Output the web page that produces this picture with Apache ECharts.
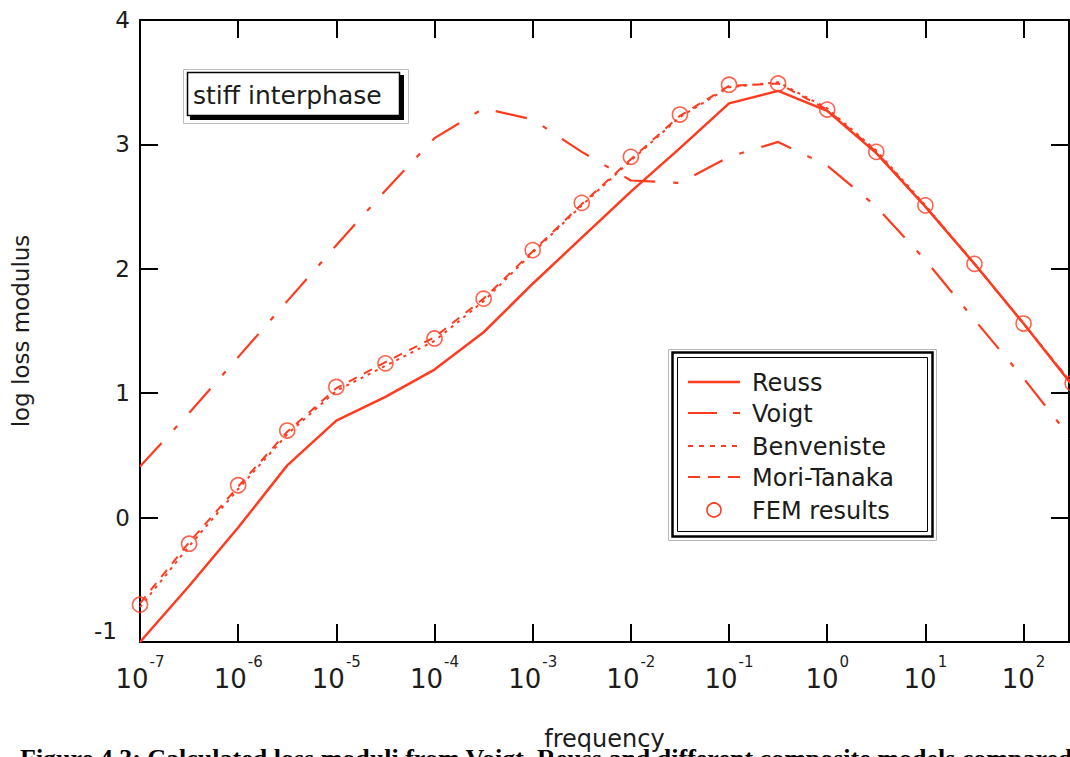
<!DOCTYPE html>
<html>
<head>
<meta charset="utf-8">
<script src="https://cdn.jsdelivr.net/npm/echarts@6/dist/echarts.min.js"></script>
<style>
html,body{margin:0;padding:0;background:#fff;}
#chart{width:1070px;height:757px;}
</style>
</head>
<body>
<div id="chart"></div>
<script>
// log10(frequency) sample positions (half decades)
var logFreq = [-7,-6.5,-6,-5.5,-5,-4.5,-4,-3.5,-3,-2.5,-2,-1.5,-1,-0.5,0,0.5,1,1.5,2,2.5];
// log loss modulus per model
var reuss      = [-1.00,-0.55,-0.08,0.42,0.78,0.97,1.19,1.49,1.88,2.25,2.62,2.97,3.33,3.43,3.27,2.93,2.50,2.04,1.56,1.06];
var voigt      = [0.41,0.84,1.29,1.74,2.19,2.63,3.05,3.29,3.20,2.94,2.71,2.69,2.90,3.02,2.83,2.50,2.07,1.59,1.12,0.62];
var benveniste = [-0.72,-0.23,0.23,0.67,1.02,1.22,1.42,1.74,2.13,2.51,2.87,3.22,3.46,3.50,3.29,2.95,2.51,2.04,1.56,1.07];
var moriTanaka = [-0.69,-0.20,0.25,0.69,1.04,1.25,1.45,1.76,2.14,2.52,2.88,3.23,3.47,3.49,3.28,2.94,2.50,2.04,1.56,1.07];
var fem        = [-0.70,-0.21,0.26,0.70,1.05,1.24,1.44,1.76,2.15,2.53,2.90,3.24,3.48,3.49,3.28,2.94,2.51,2.04,1.56,1.08];
var seriesNames = ['Reuss','Voigt','Benveniste','Mori-Tanaka','FEM results'];
var xTickMin = -7, xMax = 2.463, yMin = -1, yMax = 4;
var xTitle = 'frequency', yTitle = 'log loss modulus', boxLabel = 'stiff interphase';
var caption = 'Figure 4.3: Calculated loss moduli from Voigt, Reuss and different composite models compared with';

function pairs(ys){ return logFreq.map(function(x,i){ return [x, ys[i]]; }); }

var RED = '#ff3b1f';
var INK = '#1c1c1c';
var FONT = '"DejaVu Sans", Verdana, sans-serif';
var DASH = {
  'Reuss': null,
  'Voigt': [32,18,5,18],
  'Benveniste': [3,5],
  'Mori-Tanaka': [9,8]
};
var LEGEND_DASH = {
  'Reuss': null,
  'Voigt': [29,16,7,30],
  'Benveniste': [5,6],
  'Mori-Tanaka': [12,8]
};

var chart = echarts.init(document.getElementById('chart'), null, {renderer:'svg'});
var axisLineStyle = {color:'#000', width:2};
var tickStyle = {show:true, inside:true, length:18, lineStyle:{color:'#000', width:2}};

// legend drawn as graphic (icons need exact dash patterns)
var legendRows = [382, 413, 446, 477, 510];
var legendGraphics = [
  {type:'rect', z:5, silent:true, shape:{x:668.5,y:349.5,width:268,height:191}, style:{fill:'#fff', stroke:'#b8b8b8', lineWidth:1}},
  {type:'rect', z:5, silent:true, shape:{x:672.5,y:352.5,width:260,height:184}, style:{fill:'#fff', stroke:'#000', lineWidth:2.5}},
  {type:'rect', z:5, silent:true, shape:{x:677.5,y:357.5,width:250,height:174}, style:{fill:'#fff', stroke:'#000', lineWidth:1}}
];
seriesNames.forEach(function(name, i){
  var cy = legendRows[i];
  if (name === 'FEM results') {
    legendGraphics.push({type:'circle', z:6, silent:true, shape:{cx:714, cy:cy, r:7}, style:{fill:'none', stroke:RED, lineWidth:1.6}});
  } else {
    legendGraphics.push({type:'line', z:6, silent:true, shape:{x1:688, y1:cy, x2:740, y2:cy},
      style:{stroke:RED, lineWidth:(name==='Reuss'?2.5:2.2), lineDash:LEGEND_DASH[name]}});
  }
  legendGraphics.push({type:'text', z:6, silent:true, left:752, top:cy-11,
    style:{text:name, font:'24px "DejaVu Sans", Verdana, sans-serif', fill:INK}});
});

chart.setOption({
  animation:false,
  backgroundColor:'#fff',
  grid:{left:140, right:1, top:20, bottom:115, containLabel:false},
  xAxis:[{
    type:'value', min:xTickMin, max:xMax, interval:1, position:'bottom',
    axisLine:{show:true, onZero:false, lineStyle:axisLineStyle},
    axisTick:tickStyle, splitLine:{show:false},
    name:xTitle, nameLocation:'middle', nameGap:85,
    nameTextStyle:{fontFamily:FONT, fontSize:24, color:INK},
    axisLabel:{
      margin:18, showMaxLabel:false,
      formatter:function(v){ return Math.abs(v-Math.round(v))<1e-9 ? '{b|10}{s|'+Math.round(v)+'}' : ''; },
      rich:{
        b:{fontFamily:FONT, fontSize:26, color:INK, lineHeight:26, padding:[12,0,0,0]},
        s:{fontFamily:FONT, fontSize:15, color:INK, lineHeight:15, padding:[0,0,23,1]}
      }
    }
  },{
    type:'value', min:xTickMin, max:xMax, interval:1, position:'top',
    axisLine:{show:true, onZero:false, lineStyle:axisLineStyle},
    axisTick:tickStyle, axisLabel:{show:false}, splitLine:{show:false}
  }],
  yAxis:[{
    type:'value', min:yMin, max:yMax, interval:1, position:'left',
    axisLine:{show:true, onZero:false, lineStyle:axisLineStyle},
    axisTick:tickStyle, splitLine:{show:false},
    name:yTitle, nameLocation:'middle', nameGap:108, nameRotate:90,
    nameTextStyle:{fontFamily:FONT, fontSize:23, color:INK},
    axisLabel:{
      margin:10, fontFamily:FONT, fontSize:23, color:INK,
      formatter:function(v){ return v===-1 ? '{m|-1}' : String(v); },
      rich:{ m:{fontFamily:FONT, fontSize:23, color:INK, padding:[0,13,22,0]} }
    }
  },{
    type:'value', min:yMin, max:yMax, interval:1, position:'right',
    axisLine:{show:true, onZero:false, lineStyle:axisLineStyle},
    axisTick:tickStyle, axisLabel:{show:false}, splitLine:{show:false}
  }],
  graphic: legendGraphics.concat([
    // annotation box
    {type:'rect', z:5, silent:true, shape:{x:183.5,y:69.5,width:225,height:54}, style:{fill:'#fff', stroke:'#bdbdbd', lineWidth:1}},
    {type:'rect', z:5, silent:true, shape:{x:190,y:75,width:214,height:45}, style:{fill:'#000'}},
    {type:'rect', z:6, silent:true, shape:{x:187.5,y:72.5,width:212,height:43}, style:{fill:'#fff', stroke:'#000', lineWidth:1.5}},
    {type:'text', z:7, silent:true, left:193, top:83, style:{text:boxLabel, font:'25px "DejaVu Sans", Verdana, sans-serif', fill:INK}},
    // caption (cut at bottom edge, as in the reference)
    {type:'text', z:7, silent:true, left:20, top:745, style:{text:caption, font:'bold 26px "Liberation Serif", "Times New Roman", serif', fill:'#000'}}
  ]),
  series:[
    {name:'Voigt', type:'line', data:pairs(voigt), symbol:'none', z:2,
     lineStyle:{color:RED, width:2.2, type:DASH['Voigt']}},
    {name:'Mori-Tanaka', type:'line', data:pairs(moriTanaka), symbol:'none', z:2,
     lineStyle:{color:RED, width:2, type:DASH['Mori-Tanaka']}},
    {name:'Benveniste', type:'line', data:pairs(benveniste), symbol:'none', z:2,
     lineStyle:{color:RED, width:2, type:DASH['Benveniste']}},
    {name:'Reuss', type:'line', data:pairs(reuss), symbol:'none', z:3,
     lineStyle:{color:RED, width:2.5, type:'solid'}},
    {name:'FEM results', type:'scatter', data:pairs(fem), symbol:'circle', symbolSize:15, z:4, clip:false,
     itemStyle:{color:'rgba(255,255,255,0)', borderColor:RED, borderWidth:1.6}}
  ]
});
</script>
</body>
</html>
